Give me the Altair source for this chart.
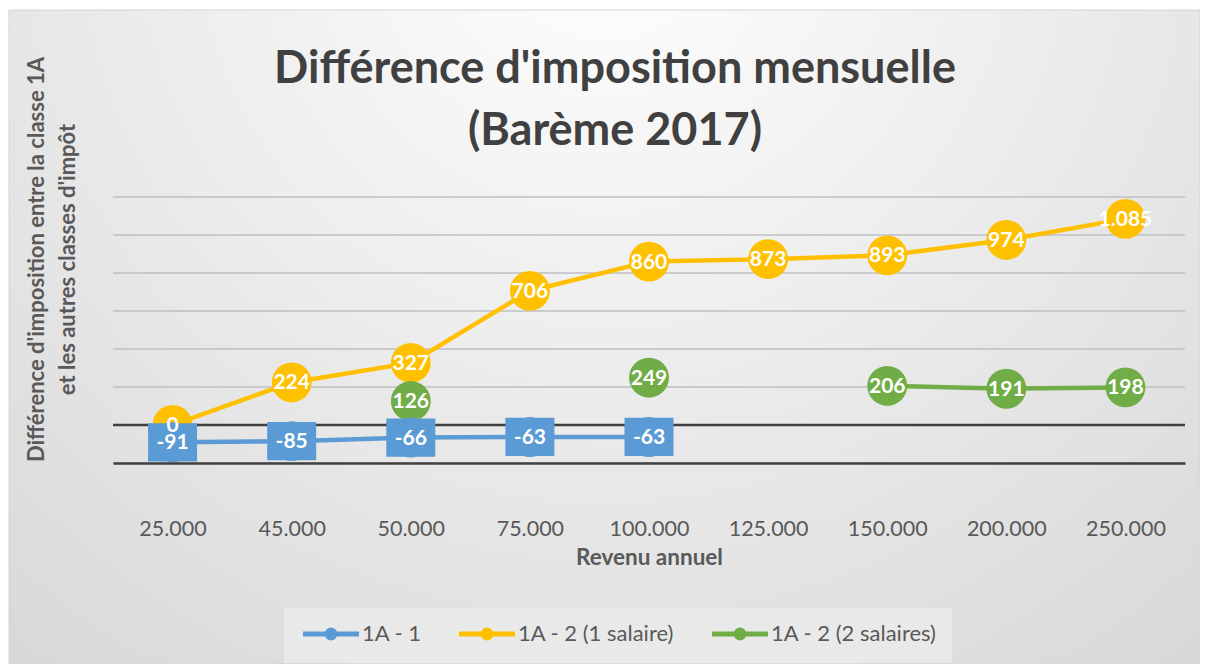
import altair as alt
import pandas as pd

# ---- data ----
revenus = ["25.000", "45.000", "50.000", "75.000", "100.000",
           "125.000", "150.000", "200.000", "250.000"]
series_names = ["1A - 1", "1A - 2 (1 salaire)", "1A - 2 (2 salaires)"]
serie_1a_1 = [-91, -85, -66, -63, -63, None, None, None, None]
serie_1a_2_1sal = [0, 224, 327, 706, 860, 873, 893, 974, 1085]
serie_1a_2_2sal = [None, None, 126, None, 249, None, 206, 191, 198]
colors = ["#5B9BD5", "#FFC000", "#70AD47"]
y_grid_values = [-200, 200, 400, 600, 800, 1000, 1200]
draw_rank = {"1A - 2 (1 salaire)": 0, "1A - 2 (2 salaires)": 1, "1A - 1": 2}

rows = []
for name, vals in zip(series_names, [serie_1a_1, serie_1a_2_1sal, serie_1a_2_2sal]):
    seg = 0
    gap = True
    for rev, v in zip(revenus, vals):
        if v is None:
            gap = True
            continue
        if gap:
            seg += 1
            gap = False
        rows.append({
            "revenu": rev,
            "serie": name,
            "valeur": v,
            "segment": f"{name}-{seg}",
            "etiquette": f"{v:,}".replace(",", "."),
            "rang": draw_rank[name],
        })
df = pd.DataFrame(rows).sort_values(["rang"], kind="stable").reset_index(drop=True)

FONT = "Lato"
W, H = 1072, 266

x_enc = alt.X(
    "revenu:N",
    scale=alt.Scale(domain=revenus),
    axis=alt.Axis(
        title="Revenu annuel",
        titleFont=FONT, titleFontSize=22.5, titleFontWeight="bold", titleColor="#595959",
        titlePadding=7,
        labelFont=FONT, labelFontSize=21.5, labelColor="#595959", labelPadding=55,
        labelAngle=0,
        ticks=False, grid=False,
        domainColor="#404040", domainWidth=2.5, zindex=1,
    ),
)
y_enc = alt.Y(
    "valeur:Q",
    scale=alt.Scale(domain=[-200, 1200], nice=False, zero=False),
    axis=alt.Axis(
        title=["Différence d'imposition entre la classe 1A", "et les autres classes d'impôt"],
        titleFont=FONT, titleFontSize=22, titleFontWeight="bold", titleColor="#595959",
        titleLineHeight=31, titleX=-87, titleY=62, titleAlign="center",
        titleBaseline="top", titleAngle=270,
        labels=False, ticks=False, domain=False, grid=False, zindex=1,
    ),
)
color_enc = alt.Color(
    "serie:N",
    scale=alt.Scale(domain=series_names, range=colors),
    legend=alt.Legend(
        title=None, orient="none", legendX=171, legendY=411, direction="horizontal",
        symbolType="M-1,0L7,0M3.57,0A0.57,0.57,0,1,1,2.43,0A0.57,0.57,0,1,1,3.57,0",
        symbolSize=196, symbolStrokeWidth=5,
        labelFont=FONT, labelFontSize=22, labelColor="#595959", labelLimit=400,
        labelOffset=41, columnPadding=27, padding=15, fillColor="#e9e9e9",
    ),
)

gradient = {
    "gradient": "radial",
    "x1": 0.5, "y1": 0.15, "r1": 0,
    "x2": 0.5, "y2": 0.15, "r2": 0.9,
    "stops": [
        {"offset": 0, "color": "#ffffff"},
        {"offset": 1, "color": "#d3d3d3"},
    ],
}

background = alt.Chart(alt.Data(values=[{}])).mark_rect(
    fill=gradient, stroke="#d4d4d4", strokeWidth=1
).encode(
    x=alt.value(-104), x2=alt.value(1087), y=alt.value(-187), y2=alt.value(467)
)

base = alt.Chart(df)

grid_rules = alt.Chart(
    alt.Data(values=[{"valeur": v} for v in y_grid_values])
).mark_rule(color="#bfbfbf", strokeWidth=1.5).encode(y=y_enc)

zero_rule = alt.Chart(alt.Data(values=[{"valeur": 0}])).mark_rule(
    color="#404040", strokeWidth=2.5
).encode(y=y_enc)

lines = base.mark_line(strokeWidth=4.5, strokeCap="round").encode(
    x=x_enc, y=y_enc, color=color_enc, detail="segment:N"
)

circles = base.mark_circle(size=1590, opacity=1).encode(
    x=x_enc, y=y_enc, color=color_enc
)

rects = base.transform_filter(alt.datum.serie == "1A - 1").mark_point(
    shape="M-1,-0.78L1,-0.78L1,0.78L-1,0.78Z", filled=True, size=2401, opacity=1
).encode(x=x_enc, y=y_enc, color=color_enc)

labels = base.mark_text(
    font=FONT, fontSize=21, fontWeight="bold", color="white",
    align="center", baseline="middle", dy=1
).encode(x=x_enc, y=y_enc, text="etiquette:N")

chart = alt.layer(
    background, grid_rules, zero_rule, lines, circles, rects, labels
).properties(
    width=W, height=H,
    autosize=alt.AutoSizeParams(type="none"),
    padding={"left": 105, "top": 189, "right": 15, "bottom": 201},
    title=alt.TitleParams(
        text=["Différence d'imposition mensuelle", "(Barème 2017)"],
        font=FONT, fontSize=45, fontWeight="bold", color="#404040",
        lineHeight=62, anchor="middle", dx=-34, dy=182, offset=38, frame="group",
    ),
).configure_view(strokeWidth=0)

chart.save("out.html", embed_options={"renderer": "svg", "actions": False})
